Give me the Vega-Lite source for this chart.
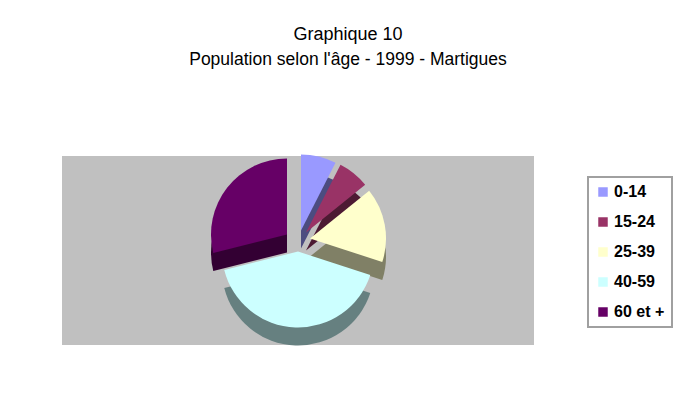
{
  "$schema": "https://vega.github.io/schema/vega-lite/v6.json",
  "width": 472,
  "height": 189,
  "padding": {"left": 62, "top": 26, "right": 0, "bottom": 0},
  "background": "white",
  "title": {
    "text": "Graphique 10",
    "subtitle": "Population selon l'âge - 1999 - Martigues",
    "anchor": "middle",
    "frame": "group",
    "dx": 50,
    "offset": 86,
    "font": "Liberation Sans",
    "fontSize": 18,
    "fontWeight": "normal",
    "color": "#000000",
    "subtitleFont": "Liberation Sans",
    "subtitleFontSize": 17.5,
    "subtitleColor": "#000000",
    "subtitlePadding": 7
  },
  "data": {
    "values": [
      {"age": "0-14", "value": 7.5},
      {"age": "15-24", "value": 6.7},
      {"age": "25-39", "value": 15.8},
      {"age": "40-59", "value": 41.1},
      {"age": "60 et +", "value": 28.9}
    ]
  },
  "transform": [
    {"stack": "value", "groupby": [], "sort": [{"field": "age", "order": "ascending"}], "as": ["v0", "v1"]}
  ],
  "layer": [
    {"mark": {"type": "rect", "color": "#C0C0C0"}, "encoding": {}},
    {
      "encoding": {
        "theta": {"field": "v0", "type": "quantitative", "scale": {"domain": [0, 100]}},
        "theta2": {"field": "v1"}
      },
      "layer": [
        {"transform": [{"filter": "datum.age === '0-14'"}], "mark": {"type": "arc", "radius": 76, "fill": "#4C4C80", "xOffset": 3, "yOffset": -2}},
        {"transform": [{"filter": "datum.age === '15-24'"}], "mark": {"type": "arc", "radius": 76, "fill": "#4D1A33", "xOffset": 8, "yOffset": 0}},
        {"transform": [{"filter": "datum.age === '25-39'"}], "mark": {"type": "arc", "radius": 76, "fill": "#808066", "xOffset": 12, "yOffset": 6}},
        {"transform": [{"filter": "datum.age === '60 et +'"}], "mark": {"type": "arc", "radius": 76, "fill": "#330033", "xOffset": -11, "yOffset": 2}},
        {"transform": [{"filter": "datum.age === '40-59'"}], "mark": {"type": "arc", "radius": 76, "fill": "#668080", "xOffset": 0, "yOffset": 19}},
        {"transform": [{"filter": "datum.age === '0-14'"}], "mark": {"type": "arc", "radius": 76, "xOffset": 3, "yOffset": -20},
         "encoding": {"color": {"field": "age", "type": "nominal", "scale": {"domain": ["0-14", "15-24", "25-39", "40-59", "60 et +"], "range": ["#9999FF", "#993366", "#FFFFCC", "#CCFFFF", "#660066"]}, "legend": {"title": null}}}},
        {"transform": [{"filter": "datum.age === '15-24'"}], "mark": {"type": "arc", "radius": 76, "xOffset": 8, "yOffset": -18},
         "encoding": {"color": {"field": "age", "type": "nominal", "scale": {"domain": ["0-14", "15-24", "25-39", "40-59", "60 et +"], "range": ["#9999FF", "#993366", "#FFFFCC", "#CCFFFF", "#660066"]}, "legend": {"title": null}}}},
        {"transform": [{"filter": "datum.age === '25-39'"}], "mark": {"type": "arc", "radius": 76, "xOffset": 12, "yOffset": -12},
         "encoding": {"color": {"field": "age", "type": "nominal", "scale": {"domain": ["0-14", "15-24", "25-39", "40-59", "60 et +"], "range": ["#9999FF", "#993366", "#FFFFCC", "#CCFFFF", "#660066"]}, "legend": {"title": null}}}},
        {"transform": [{"filter": "datum.age === '60 et +'"}], "mark": {"type": "arc", "radius": 76, "xOffset": -11, "yOffset": -16},
         "encoding": {"color": {"field": "age", "type": "nominal", "scale": {"domain": ["0-14", "15-24", "25-39", "40-59", "60 et +"], "range": ["#9999FF", "#993366", "#FFFFCC", "#CCFFFF", "#660066"]}, "legend": {"title": null}}}},
        {"transform": [{"filter": "datum.age === '40-59'"}], "mark": {"type": "arc", "radius": 76, "xOffset": 0, "yOffset": 1},
         "encoding": {"color": {"field": "age", "type": "nominal", "scale": {"domain": ["0-14", "15-24", "25-39", "40-59", "60 et +"], "range": ["#9999FF", "#993366", "#FFFFCC", "#CCFFFF", "#660066"]}, "legend": {"title": null}}}}
      ]
    }
  ],
  "config": {
    "view": {"stroke": null},
    "legend": {
      "orient": "none",
      "legendX": 526,
      "legendY": 21,
      "strokeColor": "#A0A0A0",
      "strokeWidth": 2,
      "fillColor": "#FFFFFF",
      "padding": 7,
      "symbolType": "square",
      "symbolSize": 90,
      "symbolStrokeWidth": 0,
      "labelFont": "Liberation Sans",
      "labelFontWeight": "bold",
      "labelFontSize": 16,
      "labelColor": "#000000",
      "rowPadding": 14,
      "labelOffset": 3
    }
  }
}
